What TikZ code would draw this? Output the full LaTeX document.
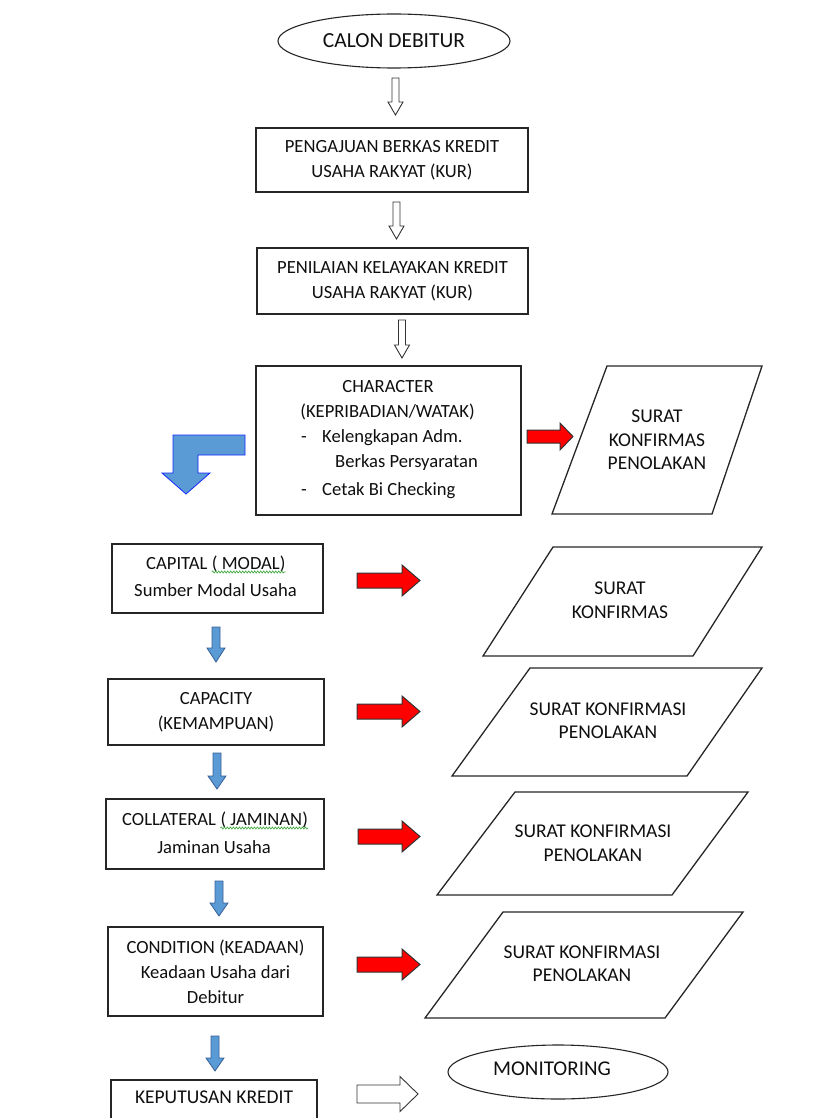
\documentclass[tikz,border=0pt]{standalone}
\usepackage{fontspec}
\setmainfont{Carlito}
\usetikzlibrary{shapes.geometric,decorations.pathmorphing}
\definecolor{txt}{RGB}{15,15,15}
\definecolor{bluef}{RGB}{91,155,213}
\definecolor{blued}{RGB}{55,95,150}
\definecolor{bluel}{RGB}{20,40,255}
\definecolor{redf}{RGB}{255,0,0}
\definecolor{squig}{RGB}{70,170,70}
\newcommand\mydown[7]{\draw[#1] (#2-#5,#3) -- (#2+#5,#3) -- (#2+#5,#7) -- (#2+#6,#7) -- (#2,#4) -- (#2-#6,#7) -- (#2-#5,#7) -- cycle;}
\newcommand\myright[7]{\draw[#1] (#3,#2-#5) -- (#7,#2-#5) -- (#7,#2-#6) -- (#4,#2) -- (#7,#2+#6) -- (#7,#2+#5) -- (#3,#2+#5) -- cycle;}
\begin{document}
\begin{tikzpicture}[x=1pt,y=-1pt,
  font=\fontsize{18.6}{25}\selectfont,
  every node/.style={text=txt},
  boxnode/.style={draw=black!85, line width=1.4pt, rectangle, inner sep=0pt, align=center},
  ellnode/.style={draw=black!85, line width=1.1pt, ellipse, inner sep=0pt, align=center},
  paranode/.style={draw=black!85, line width=1.3pt, line join=miter},
  ptext/.style={align=center, inner sep=0pt, font=\fontsize{19.5}{23.5}\selectfont},
  ltext/.style={inner sep=0pt, anchor=base},
  hollowarr/.style={draw=black!80, fill=white, line width=0.9pt, line join=miter},
  bluearr/.style={fill=bluef, draw=blued, line width=0.8pt, line join=miter},
  bluebend/.style={fill=bluef, draw=bluel, line width=0.8pt, line join=miter},
  redarr/.style={fill=redf, draw=black!80, line width=1pt, line join=miter},
  wavy/.style={draw=squig, line width=0.7pt, decorate, decoration={snake, amplitude=1pt, segment length=3pt}}
]
\useasboundingbox (0,0) rectangle (819,1118);
\clip (0,0) rectangle (819,1118);

% main column
\node[ellnode, minimum width=232pt, minimum height=54pt, font=\fontsize{21.5}{25}\selectfont] (calon) at (394,41) {CALON DEBITUR};
\node[boxnode, minimum width=272pt, minimum height=64pt] (peng) at (392,160) {PENGAJUAN BERKAS KREDIT\\USAHA RAKYAT (KUR)};
\node[boxnode, minimum width=271pt, minimum height=66pt] (penil) at (392.5,281) {PENILAIAN KELAYAKAN KREDIT\\USAHA RAKYAT (KUR)};
\node[boxnode, minimum width=265pt, minimum height=149pt] (char) at (388.5,440.5) {};
\node[ltext] (ch1) at (388,392) {CHARACTER};
\node[ltext] (ch2) at (387.5,417.5) {(KEPRIBADIAN/WATAK)};
\node[ltext] (ch3d) at (304,442.5) {-};
\node[ltext, anchor=base west] (ch3) at (322,442.5) {Kelengkapan Adm.};
\node[ltext, anchor=base west] (ch4) at (335,467.5) {Berkas Persyaratan};
\node[ltext] (ch5d) at (304,495) {-};
\node[ltext, anchor=base west] (ch5) at (322,495) {Cetak Bi Checking};

% left column
\node[boxnode, minimum width=211pt, minimum height=69pt] (capital) at (217.5,578.5) {};
\node[ltext, anchor=base west] (cap1a) at (146,569) {CAPITAL};
\node[ltext, anchor=base west] (cap1b) at ([xshift=4.2pt]cap1a.base east) {( MODAL)};
\node[ltext] (cap2) at (215.5,596) {Sumber Modal Usaha};
\draw[wavy] ([yshift=-3pt]cap1b.base west) -- ([yshift=-3pt]cap1b.base east);

\node[boxnode, minimum width=216pt, minimum height=66pt] (capacity) at (216,712) {CAPACITY\\(KEMAMPUAN)};

\node[boxnode, minimum width=218pt, minimum height=70pt] (coll) at (215,834) {};
\node[ltext, anchor=base west] (col1a) at (122,825) {COLLATERAL};
\node[ltext, anchor=base west] (col1b) at ([xshift=4.2pt]col1a.base east) {( JAMINAN)};
\node[ltext] (col2) at (214,853) {Jaminan Usaha};
\draw[wavy] ([yshift=-3pt]col1b.base west) -- ([yshift=-3pt]col1b.base east);

\node[boxnode, minimum width=215pt, minimum height=89pt] (cond) at (215.5,971.5) {CONDITION (KEADAAN)\\Keadaan Usaha dari\\Debitur};

\node[boxnode, minimum width=206pt, minimum height=62pt] (kep) at (214,1111) {};
\node[ltext, font=\fontsize{19.5}{25}\selectfont] (kept) at (214,1103) {KEPUTUSAN KREDIT};

\node[ellnode, minimum width=220pt, minimum height=54pt] (moni) at (558,1072) {};
\node[ltext, font=\fontsize{21}{25}\selectfont] (monit) at (552,1075.5) {MONITORING};

% parallelograms
\draw[paranode] (552,514) -- (712,514) -- (762,366) -- (607,366) -- cycle;
\node[ptext] (p1) at (657,440) {SURAT\\KONFIRMAS\\PENOLAKAN};
\draw[paranode] (483,656) -- (693,656) -- (762,547) -- (553,547) -- cycle;
\node[ptext] (p2) at (620,600) {SURAT\\KONFIRMAS};
\draw[paranode] (452,776) -- (687,776) -- (762,668) -- (530,668) -- cycle;
\node[ptext] (p3) at (608,720.5) {SURAT KONFIRMASI\\PENOLAKAN};
\draw[paranode] (437,895) -- (672,895) -- (748,792) -- (515,792) -- cycle;
\node[ptext] (p4) at (593,843) {SURAT KONFIRMASI\\PENOLAKAN};
\draw[paranode] (425,1018) -- (665,1018) -- (743,912) -- (503,912) -- cycle;
\node[ptext] (p5) at (582,963.5) {SURAT KONFIRMASI\\PENOLAKAN};

% hollow down arrows
\mydown{hollowarr}{395.5}{78}{115}{3.5}{7.5}{102}
\mydown{hollowarr}{396.5}{202}{239}{3.5}{7.5}{226}
\mydown{hollowarr}{402}{320}{358}{3.5}{7.5}{345}

% blue down arrows
\mydown{bluearr}{216}{627}{662}{4}{9}{648}
\mydown{bluearr}{217}{753}{789}{4}{9}{776}
\mydown{bluearr}{219}{881}{916}{4}{9}{903}
\mydown{bluearr}{215}{1036}{1071}{4}{9}{1058}

% blue bent arrow
\draw[bluebend] (245,435) -- (173,435) -- (173,473) -- (162,473) -- (186,494) -- (210,473) -- (198,473) -- (198,455) -- (245,455) -- cycle;

% red arrows
\myright{redarr}{436.5}{527}{573}{6.5}{13.5}{560}
\myright{redarr}{580.5}{357}{420}{7.5}{15.5}{402}
\myright{redarr}{711.5}{357}{420}{7.5}{15.5}{402}
\myright{redarr}{836.5}{358}{420}{7.5}{15.5}{402}
\myright{redarr}{964.5}{357}{420}{7.5}{15.5}{402}

% hollow right arrow
\myright{hollowarr}{1094}{357}{418}{9}{17.5}{400}
\end{tikzpicture}
\end{document}
